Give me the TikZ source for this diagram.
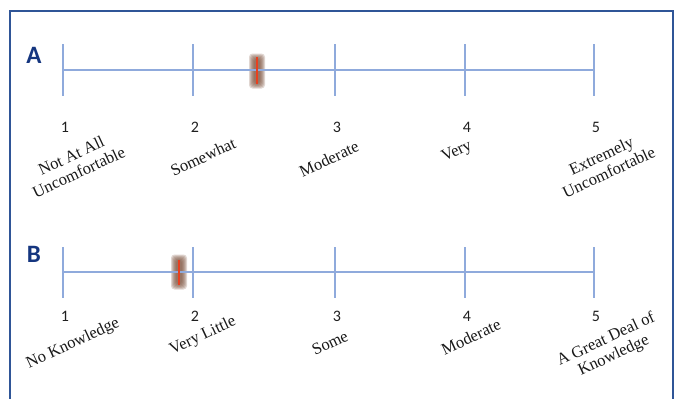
\documentclass[tikz,border=0pt]{standalone}
\usepackage{fontspec}
\setmainfont{Liberation Serif}
\newfontfamily\calibri{Carlito}
\usetikzlibrary{calc}
\definecolor{frameblue}{HTML}{2F5597}
\definecolor{scaleblue}{HTML}{8FAADC}
\definecolor{letterblue}{HTML}{15367F}
\definecolor{markbrown}{HTML}{7E5440}
\definecolor{markred}{HTML}{E8401F}

\begin{document}
\begin{tikzpicture}[x=1pt,y=-1pt,
  scaleline/.style={draw=scaleblue,line width=1.5pt},
  num/.style={font=\calibri\fontsize{16}{18}\selectfont,text=black!88,inner sep=0pt},
  lbl/.style={font=\fontsize{16.5}{18}\selectfont,rotate=25,align=center,inner sep=0pt,text=black!90},
  letter/.style={font=\calibri\bfseries\fontsize{25}{28}\selectfont,text=letterblue,inner sep=0pt},
  markglow/.style={fill=markbrown,opacity=0.24,draw=none}]
\useasboundingbox (0,0) rectangle (675,399);

% outer frame (open at the bottom)
\draw[frameblue,line width=1.5pt] (10,402) -- (10,11) -- (673,11) -- (673,402);

% blurred response markers, drawn beneath the scale lines
\coordinate (ma) at (257,71);
\coordinate (mb) at (179,272);
\foreach \m in {ma,mb} {
  \foreach \g in {5,4,3,2,1,0} {
    \fill[markglow,rounded corners=3.5pt] ($(\m)+(-3-\g,-12.5-\g)$) rectangle ($(\m)+(3+\g,12.5+\g)$);
  }
}

% ---------- scale A ----------
\node[letter] (lA) at (34,55) {A};
\foreach \i/\x in {1/63,2/193,3/335,4/465,5/594} {
  \coordinate (a\i) at (\x,70);
  \coordinate (at\i) at (\x,44);
  \coordinate (ab\i) at (\x,96);
  \draw[scaleline] (at\i) -- (ab\i);
  \node[num] (na\i) at (\x+2,127) {\i};
}
\draw[scaleline] (a1) -- (a5);

\node[lbl] (la1) at (75,164) {Not At All\\Uncomfortable};
\node[lbl] (la2) at (203,157) {Somewhat};
\node[lbl] (la3) at (329,159) {Moderate};
\node[lbl] (la4) at (457,152) {Very};
\node[lbl] (la5) at (605,164) {Extremely\\Uncomfortable};

\draw[markred,line width=1.3pt] ($(ma)+(0,-14)$) -- ($(ma)+(0,13)$);

% ---------- scale B ----------
\node[letter] (lB) at (34,254) {B};
\foreach \i/\x in {1/63,2/193,3/335,4/465,5/594} {
  \coordinate (b\i) at (\x,272);
  \coordinate (bt\i) at (\x,247);
  \coordinate (bb\i) at (\x,298);
  \draw[scaleline] (bt\i) -- (bb\i);
  \node[num] (nb\i) at (\x+2,316) {\i};
}
\draw[scaleline] (b1) -- (b5);

\node[lbl] (lb1) at (73,344) {No Knowledge};
\node[lbl] (lb2) at (203,336) {Very Little};
\node[lbl] (lb3) at (330,343) {Some};
\node[lbl] (lb4) at (471,337) {Moderate};
\node[lbl] (lb5) at (610,348) {A Great Deal of\\Knowledge};

\draw[markred,line width=1.3pt] ($(mb)+(0,-12)$) -- ($(mb)+(0,13)$);
\end{tikzpicture}
\end{document}
